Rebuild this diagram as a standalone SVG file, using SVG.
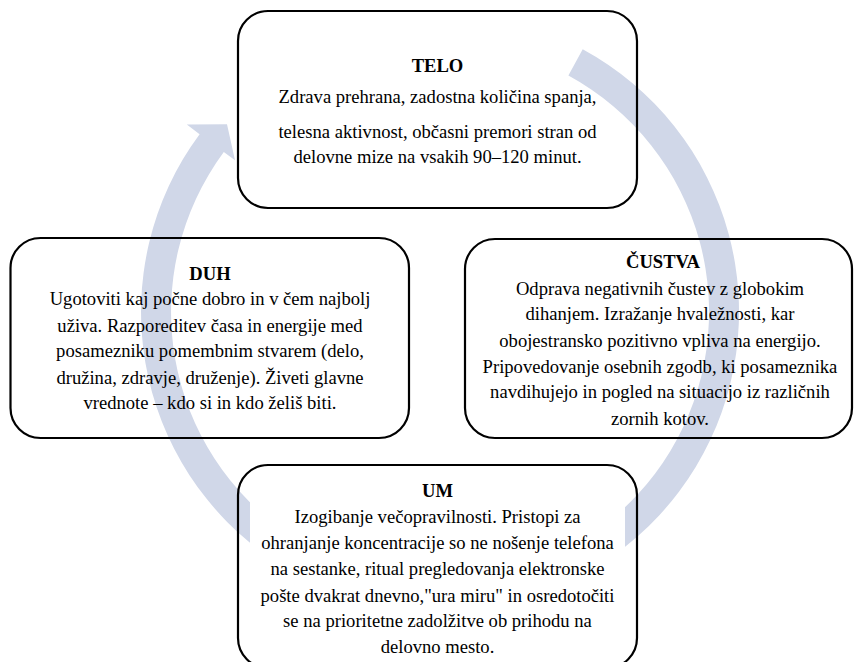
<svg xmlns="http://www.w3.org/2000/svg" width="856" height="662" viewBox="0 0 856 662">
<style>
.box{fill:none;stroke:#000;stroke-width:2.2}
.t{font-family:"Liberation Serif","Times New Roman",serif;font-size:18.6px;fill:#000;text-anchor:middle}
.h{font-weight:bold}
.band{fill:#D0D7E8;stroke:none}
</style>
<rect width="856" height="662" fill="#fff"/>
<g id="connectors">
<path class="band" d="M 582.7 49.2 A 299 299 0 1 1 199.6 134.2 L 186.8 124.6 L 227 124.2 L 235 160.3 L 223.8 152.0 A 269 269 0 1 0 568.4 75.6 Z"/>
</g>
<g id="telo">
<rect class="box" x="238" y="11" width="399" height="197" rx="30" ry="30"/>
<text class="t h" x="437.5" y="72">TELO</text>
<text class="t" x="437.5" y="103">Zdrava prehrana, zadostna količina spanja,</text>
<text class="t" x="437.5" y="138">telesna aktivnost, občasni premori stran od</text>
<text class="t" x="437.5" y="163">delovne mize na vsakih 90–120 minut.</text>
</g>
<g id="duh">
<rect class="box" x="10.5" y="238" width="398.5" height="200" rx="30" ry="30"/>
<text class="t h" x="210" y="280">DUH</text>
<text class="t" x="210" y="305">Ugotoviti kaj počne dobro in v čem najbolj</text>
<text class="t" x="210" y="332">uživa. Razporeditev časa in energije med</text>
<text class="t" x="210" y="357">posamezniku pomembnim stvarem (delo,</text>
<text class="t" x="210" y="384">družina, zdravje, druženje). Živeti glavne</text>
<text class="t" x="210" y="409">vrednote – kdo si in kdo želiš biti.</text>
</g>
<g id="custva">
<rect class="box" x="465" y="239" width="387" height="199" rx="30" ry="30"/>
<text class="t h" x="663" y="268">ČUSTVA</text>
<text class="t" x="660" y="295">Odprava negativnih čustev z globokim</text>
<text class="t" x="660" y="320">dihanjem. Izražanje hvaležnosti, kar</text>
<text class="t" x="660" y="347">obojestransko pozitivno vpliva na energijo.</text>
<text class="t" x="660" y="373">Pripovedovanje osebnih zgodb, ki posameznika</text>
<text class="t" x="660" y="398">navdihujejo in pogled na situacijo iz različnih</text>
<text class="t" x="660" y="425">zornih kotov.</text>
</g>
<g id="um">
<rect x="250" y="480" width="375" height="190" fill="#fff"/>
<rect class="box" x="238" y="465" width="399" height="203" rx="30" ry="30"/>
<text class="t h" x="437.5" y="497">UM</text>
<text class="t" x="437.5" y="523">Izogibanje večopravilnosti. Pristopi za</text>
<text class="t" x="437.5" y="549">ohranjanje koncentracije so ne nošenje telefona</text>
<text class="t" x="437.5" y="575">na sestanke, ritual pregledovanja elektronske</text>
<text class="t" x="437.5" y="602">pošte dvakrat dnevno,"ura miru" in osredotočiti</text>
<text class="t" x="437.5" y="627">se na prioritetne zadolžitve ob prihodu na</text>
<text class="t" x="437.5" y="653">delovno mesto.</text>
</g>
</svg>
